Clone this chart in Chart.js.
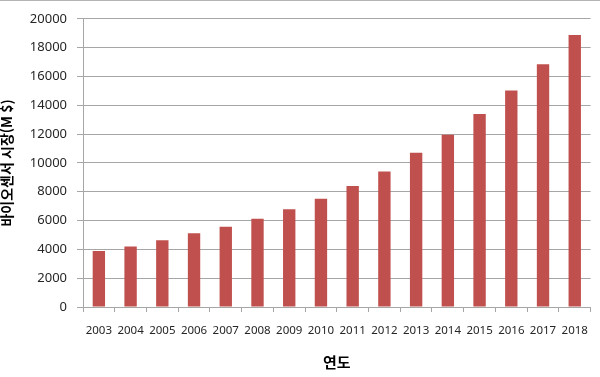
<!DOCTYPE html>
<html lang="ko">
<head>
    <meta charset="UTF-8">
    <title>바이오센서 시장</title>
    <script src="https://cdn.jsdelivr.net/npm/chart.js"></script>
    <style>
        body { margin: 0; background: #fff; }
        #wrap { width: 600px; height: 376px; border-top: 1px solid #b4b4b4; }
    </style>
</head>
<body>
    <div id="wrap">
        <canvas id="marketChart" width="600" height="376"></canvas>
    </div>

    <script>
        // 연도별 바이오센서 시장 규모 (M $)
        const years = ['2003', '2004', '2005', '2006', '2007', '2008', '2009', '2010',
                       '2011', '2012', '2013', '2014', '2015', '2016', '2017', '2018'];
        const marketSize = [3880, 4200, 4630, 5110, 5570, 6120, 6780, 7510,
                            8400, 9400, 10700, 11960, 13400, 15020, 16850, 18880];
        const yMin = 0;
        const yMax = 20000;
        const yStep = 2000;

        const gridColor = '#a6a6a6';
        const tickColor = '#262626';

        new Chart(document.getElementById('marketChart'), {
            type: 'bar',
            data: {
                labels: years,
                datasets: [{
                    label: '바이오센서 시장(M $)',
                    data: marketSize,
                    backgroundColor: '#c0504d',
                    borderWidth: 0,
                    categoryPercentage: 1.0,
                    barPercentage: 0.39
                }]
            },
            options: {
                responsive: false,
                animation: false,
                layout: { padding: { left: 0, top: 15, right: 3, bottom: 0 } },
                plugins: {
                    legend: { display: false },
                    tooltip: { enabled: false }
                },
                scales: {
                    x: {
                        grid: { drawOnChartArea: false, drawTicks: true, tickLength: 5, color: gridColor },
                        border: { color: gridColor },
                        ticks: {
                            color: tickColor,
                            padding: 12,
                            maxRotation: 0,
                            autoSkip: false,
                            font: { family: 'Noto Sans', size: 11.5 }
                        },
                        title: {
                            display: true,
                            text: '연도',
                            color: '#000',
                            padding: { top: 0, bottom: 6 },
                            font: { family: 'Noto Sans CJK KR', size: 15, weight: 'bold' }
                        },
                        afterFit: scale => { scale.height = 70; }
                    },
                    y: {
                        min: yMin,
                        max: yMax,
                        grid: { color: gridColor, tickLength: 6 },
                        border: { color: gridColor },
                        ticks: {
                            stepSize: yStep,
                            color: tickColor,
                            padding: 10,
                            font: { family: 'Noto Sans', size: 13 },
                            callback: value => String(value)
                        },
                        title: {
                            display: true,
                            text: '바이오센서 시장(M $)',
                            color: '#000',
                            padding: { top: 0, bottom: 0 },
                            font: { family: 'Noto Sans CJK KR', size: 14, weight: 'bold', lineHeight: 1 }
                        },
                        afterFit: scale => { scale.width = 83; }
                    }
                }
            }
        });
    </script>
</body>
</html>
